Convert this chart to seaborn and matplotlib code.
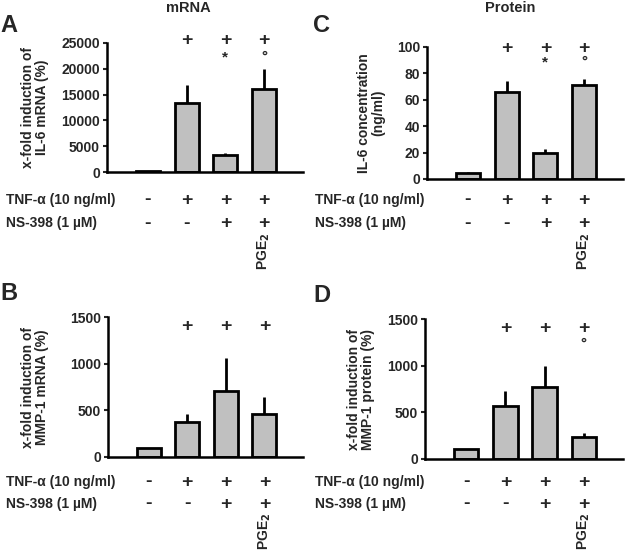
import matplotlib
matplotlib.use('Agg')
import matplotlib.pyplot as plt
import matplotlib.transforms as mtransforms
import seaborn as sns
import pandas as pd

# Data (means and upper SEM)
groups = ['ctrl', 'tnf', 'tnf_ns', 'tnf_ns_pge2']
tnf_row = ['-', '+', '+', '+']
ns_row = ['-', '-', '+', '+']

il6_mrna = [100, 13300, 3200, 16000]
il6_mrna_err = [0, 3600, 500, 4000]
il6_mrna_sig = ['', '+', '+', '+']
il6_mrna_sub = ['', '', '*', '°']

il6_prot = [4.5, 66, 20, 71]
il6_prot_err = [1.0, 8, 2.7, 5]
il6_prot_sig = ['', '+', '+', '+']
il6_prot_sub = ['', '', '*', '°']

mmp1_mrna = [100, 370, 705, 463]
mmp1_mrna_err = [0, 86, 354, 176]
mmp1_mrna_sig = ['', '+', '+', '+']
mmp1_mrna_sub = ['', '', '', '']

mmp1_prot = [105, 569, 773, 233]
mmp1_prot_err = [0, 161, 222, 43]
mmp1_prot_sig = ['', '+', '+', '+']
mmp1_prot_sub = ['', '', '', '°']

sns.set_style('white')
plt.rcParams['font.family'] = ['Liberation Sans', 'DejaVu Sans']
plt.rcParams['font.weight'] = 'bold'

W, H = 625, 550
fig = plt.figure(figsize=(W / 100, H / 100), dpi=100)


def px_axes(left, top, right, bottom):
    return fig.add_axes([left / W, 1 - bottom / H, (right - left) / W, (bottom - top) / H])


def fy(ypx):
    return 1 - ypx / H


def panel(box, vals, errs, ymax, yticks, ylabel, ylab_x, sig, sub, sig_y, sub_y,
          row_x, tnf_y, ns_y, pge_y):
    ax = px_axes(*box)
    df = pd.DataFrame({'group': groups, 'value': vals})
    sns.barplot(data=df, x='group', y='value', color='#c0c0c0', edgecolor='black',
                linewidth=2, width=0.62, saturation=1, errorbar=None, ax=ax)
    ax.errorbar(range(len(vals)), vals, yerr=[[0] * len(errs), errs], fmt='none',
                ecolor='black', elinewidth=2, capsize=0)
    ax.set_xlim(-1.05, 4.0)
    ax.set_ylim(0, ymax)
    ax.set_yticks(yticks)
    ax.set_yticklabels([str(t) for t in yticks], fontsize=10, fontweight='bold')
    ax.set_xticks([])
    ax.set_xlabel('')
    ax.set_ylabel('')
    for s in ['top', 'right']:
        ax.spines[s].set_visible(False)
    for s in ['left', 'bottom']:
        ax.spines[s].set_linewidth(1.8)
        ax.spines[s].set_color('black')
    ax.tick_params(axis='y', direction='out', length=3, width=1.5, pad=2, left=True)
    ax.spines['left'].set_bounds(0, ymax)

    fig.text(ylab_x / W, (fy(box[1]) + fy(box[3])) / 2, ylabel, rotation=90,
             ha='center', va='center', fontsize=10, fontweight='bold', linespacing=1.05)

    tr = mtransforms.blended_transform_factory(ax.transData, fig.transFigure)
    for i in range(len(vals)):
        if sig[i]:
            ax.text(i, fy(sig_y), sig[i], transform=tr, ha='center', va='center',
                    fontsize=14, fontweight='bold')
        if sub[i]:
            ax.text(i, fy(sub_y), sub[i], transform=tr, ha='center', va='center',
                    fontsize=11, fontweight='bold')
        ax.text(i, fy(tnf_y), tnf_row[i], transform=tr, ha='center', va='center',
                fontsize=14, fontweight='bold')
        ax.text(i, fy(ns_y), ns_row[i], transform=tr, ha='center', va='center',
                fontsize=14, fontweight='bold')
    ax.text(3, fy(pge_y), 'PGE$_\\mathbf{2}$', transform=tr, rotation=90, ha='center',
            va='top', fontsize=10, fontweight='bold')
    fig.text(row_x / W, fy(tnf_y), 'TNF-α (10 ng/ml)', ha='left', va='center',
             fontsize=10, fontweight='bold')
    fig.text(row_x / W, fy(ns_y), 'NS-398 (1 µM)', ha='left', va='center',
             fontsize=10, fontweight='bold')
    return ax


panel((107, 43, 303, 172), il6_mrna, il6_mrna_err, 25000,
      [0, 5000, 10000, 15000, 20000, 25000],
      'x-fold induction of\nIL-6 mRNA (%)', 35,
      il6_mrna_sig, il6_mrna_sub, 41, 57, 6, 200, 223, 233)

panel((427, 47, 623, 179), il6_prot, il6_prot_err, 100,
      [0, 20, 40, 60, 80, 100],
      'IL-6 concentration\n(ng/ml)', 371,
      il6_prot_sig, il6_prot_sub, 48, 62, 315, 200, 223, 233)

panel((108, 317, 303, 457), mmp1_mrna, mmp1_mrna_err, 1500,
      [0, 500, 1000, 1500],
      'x-fold induction of\nMMP-1 mRNA (%)', 35,
      mmp1_mrna_sig, mmp1_mrna_sub, 327, 343, 6, 482, 504, 513)

panel((425, 319, 623, 459), mmp1_prot, mmp1_prot_err, 1500,
      [0, 500, 1000, 1500],
      'x-fold induction of\nMMP-1 protein (%)', 361,
      mmp1_prot_sig, mmp1_prot_sub, 329, 344, 315, 482, 504, 513)

# Column titles and panel letters
fig.text(188 / W, fy(8), 'mRNA', ha='center', va='center', fontsize=10.5, fontweight='bold')
fig.text(510 / W, fy(8), 'Protein', ha='center', va='center', fontsize=10.5, fontweight='bold')
fig.text(0 / W, fy(25), 'A', ha='left', va='center', fontsize=17, fontweight='bold')
fig.text(313 / W, fy(25), 'C', ha='left', va='center', fontsize=17, fontweight='bold')
fig.text(0 / W, fy(294), 'B', ha='left', va='center', fontsize=17, fontweight='bold')
fig.text(313 / W, fy(296), 'D', ha='left', va='center', fontsize=17, fontweight='bold')

fig.savefig('out.png', dpi=100)
